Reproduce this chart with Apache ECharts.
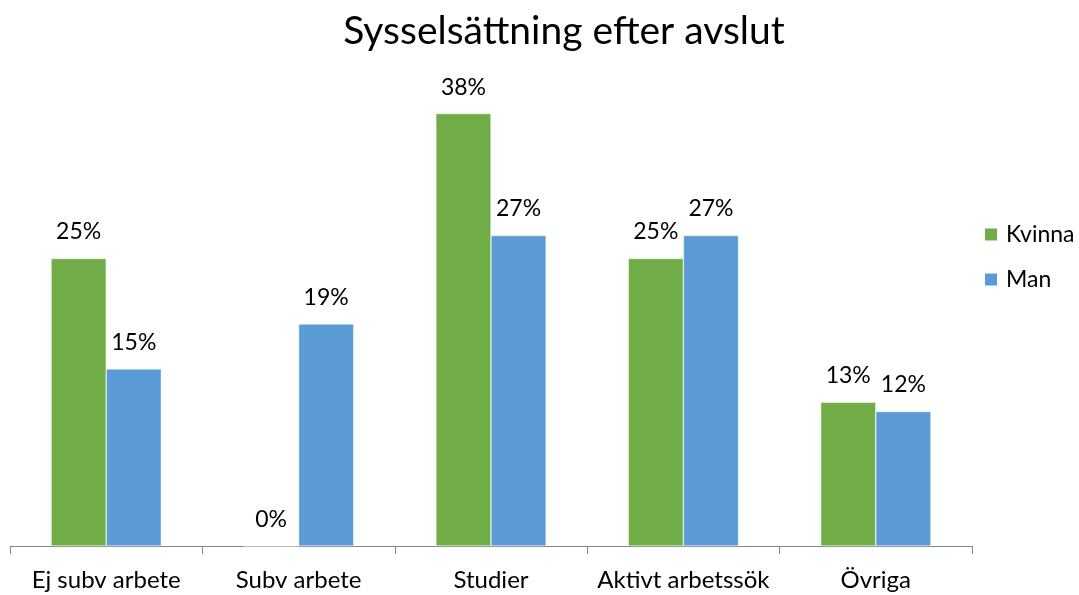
<!DOCTYPE html>
<html lang="sv">
<head>
    <meta charset="UTF-8">
    <title>Sysselsättning efter avslut</title>
    <script src="https://cdn.jsdelivr.net/npm/echarts@6/dist/echarts.min.js"></script>
</head>
<style>
    *{
        margin: 0;
        padding: 0;
    }
    html,body{
        width: 100%;
        height: 100%;
        overflow: hidden;
        background: #fff;
    }
    .container{
        width: 1079px;
        height: 595px;
    }
</style>
<body>
<div class="container"></div>
<script>
   // values (labels show rounded numbers)
   let categories = ['Ej subv arbete', 'Subv arbete', 'Studier', 'Aktivt arbetssök', 'Övriga'];
   let kvinna = [25.0, 0, 37.6, 25.0, 12.5];
   let man = [15.4, 19.3, 27.0, 27.0, 11.7];

   let font = 'Lato, "Open Sans", sans-serif';
   let mycharts = echarts.init(document.querySelector('.container'));

   let label = {
       show: true,
       position: 'top',
       distance: 15,
       color: '#000',
       fontSize: 23,
       fontFamily: font,
       formatter: function (p) {
           return Math.round(p.value) + '%';
       }
   };

   let options = {
       backgroundColor: '#fff',
       animation: false,
       title: {
           text: 'Sysselsättning efter avslut',
           left: 559,
           textAlign: 'center',
           top: 7,
           textStyle: {
               fontFamily: font,
               fontWeight: 'normal',
               fontSize: 39,
               color: '#000'
           }
       },
       legend: {
           orient: 'vertical',
           left: 978,
           top: 218,
           itemWidth: 14,
           itemHeight: 14,
           itemGap: 22,
           icon: 'rect',
           textStyle: {
               fontFamily: font,
               fontSize: 23,
               color: '#000',
               padding: [0, 0, 0, 3]
           },
           data: ['Kvinna', 'Man']
       },
       grid: {
           left: 10,
           right: 107,
           top: 86,
           bottom: 49
       },
       xAxis: {
           type: 'category',
           data: categories,
           axisLine: {lineStyle: {color: '#868686', width: 1}},
           axisTick: {show: true, length: 8, lineStyle: {color: '#868686'}},
           axisLabel: {
               color: '#000',
               fontSize: 24,
               fontFamily: font,
               margin: 22,
               interval: 0
           }
       },
       yAxis: {
           type: 'value',
           min: 0,
           max: 40,
           show: false,
           splitLine: {show: false}
       },
       series: [
           {
               name: 'Kvinna',
               type: 'bar',
               data: kvinna,
               barGap: '0%',
               barCategoryGap: '42.7%',
               itemStyle: {color: '#70ad47', borderColor: '#fff', borderWidth: 0.5},
               label
           },
           {
               name: 'Man',
               type: 'bar',
               data: man,
               itemStyle: {color: '#5b9bd5', borderColor: '#fff', borderWidth: 0.5},
               label
           }
       ]
   };

   mycharts.setOption(options);
</script>
</body>
</html>
